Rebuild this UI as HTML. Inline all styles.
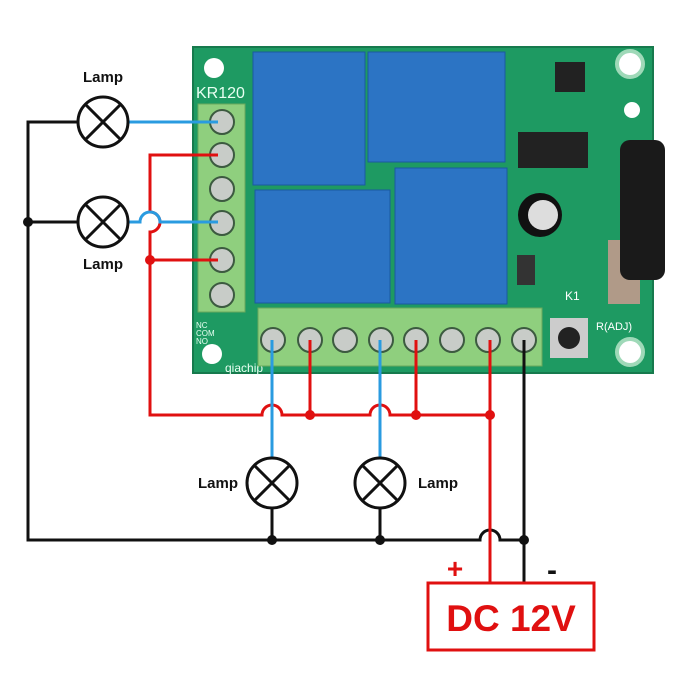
<!DOCTYPE html>
<html><head><style>body{margin:0;background:#fff}svg{display:block}</style></head><body>
<svg width="700" height="700" viewBox="0 0 700 700" font-family="Liberation Sans, sans-serif">
<!-- board -->
<rect x="193" y="47" width="460" height="326" fill="#1e9a62"/>
<rect x="193" y="47" width="460" height="326" fill="none" stroke="#177a4d" stroke-width="2"/>
<circle cx="214" cy="68" r="10" fill="#fff"/>
<circle cx="630" cy="64" r="13" fill="#fff" stroke="#9fd9b8" stroke-width="4"/>
<circle cx="632" cy="110" r="8" fill="#fff"/>
<circle cx="212" cy="354" r="10" fill="#fff"/>
<circle cx="630" cy="352" r="13" fill="#fff" stroke="#9fd9b8" stroke-width="4"/>
<text x="196" y="98" font-size="16" fill="#e8fff2">KR120</text>
<text x="196" y="328" font-size="8" fill="#e8fff2">NC</text>
<text x="196" y="336" font-size="8" fill="#e8fff2">COM</text>
<text x="196" y="344" font-size="8" fill="#e8fff2">NO</text>
<text x="225" y="372" font-size="12" fill="#e8fff2">qiachip</text>
<!-- chips -->
<rect x="555" y="62" width="30" height="30" fill="#222"/>
<rect x="518" y="132" width="70" height="36" fill="#222"/>
<circle cx="540" cy="215" r="22" fill="#111"/><circle cx="543" cy="215" r="15" fill="#ddd"/>
<rect x="517" y="255" width="18" height="30" fill="#333"/>
<rect x="550" y="318" width="38" height="40" fill="#ccc"/><circle cx="569" cy="338" r="11" fill="#222"/>
<text x="565" y="300" font-size="12" fill="#fff">K1</text>
<text x="596" y="330" font-size="11" fill="#fff">R(ADJ)</text>
<rect x="608" y="240" width="32" height="64" fill="#b09a88"/>
<rect x="620" y="140" width="45" height="140" rx="10" fill="#1a1a1a"/>
<!-- relays -->
<rect x="253" y="52" width="112" height="133" fill="#2c74c4" stroke="#1a5aa0"/>
<rect x="368" y="52" width="137" height="110" fill="#2c74c4" stroke="#1a5aa0"/>
<rect x="255" y="190" width="135" height="113" fill="#2c74c4" stroke="#1a5aa0"/>
<rect x="395" y="168" width="112" height="136" fill="#2c74c4" stroke="#1a5aa0"/>
<!-- terminal blocks -->
<rect x="198" y="104" width="47" height="208" fill="#8fcf7e" stroke="#6aa85c"/>
<rect x="258" y="308" width="284" height="58" fill="#8fcf7e" stroke="#6aa85c"/>
<g fill="#c8ccc8" stroke="#3c5a40" stroke-width="2">
<circle cx="222" cy="122" r="12"/><circle cx="222" cy="155" r="12"/><circle cx="222" cy="189" r="12"/><circle cx="222" cy="223" r="12"/><circle cx="222" cy="260" r="12"/><circle cx="222" cy="295" r="12"/>
<circle cx="273" cy="340" r="12"/><circle cx="310" cy="340" r="12"/><circle cx="345" cy="340" r="12"/><circle cx="381" cy="340" r="12"/><circle cx="416" cy="340" r="12"/><circle cx="452" cy="340" r="12"/><circle cx="488" cy="340" r="12"/><circle cx="524" cy="340" r="12"/>
</g>
<!-- black wires -->
<g fill="none" stroke="#111" stroke-width="3">
<path d="M78 122H28V540H480a10 10 0 0 1 20 0H524"/>
<path d="M28 222H78"/>
<path d="M524 340V583"/>
<path d="M272 508V540M380 508V540"/>
</g>
<g fill="#111"><circle cx="28" cy="222" r="5"/><circle cx="272" cy="540" r="5"/><circle cx="380" cy="540" r="5"/><circle cx="524" cy="540" r="5"/></g>
<!-- red wires -->
<g fill="none" stroke="#e01010" stroke-width="3">
<path d="M218 155H150V212a10 10 0 0 1 0 20V415H262a10 10 0 0 1 20 0H370a10 10 0 0 1 20 0H490"/>
<path d="M150 260H218"/>
<path d="M310 340V415M416 340V415M490 340V583"/>
</g>
<g fill="#e01010"><circle cx="150" cy="260" r="5"/><circle cx="310" cy="415" r="5"/><circle cx="416" cy="415" r="5"/><circle cx="490" cy="415" r="5"/></g>
<!-- blue wires -->
<g fill="none" stroke="#2a9be0" stroke-width="3">
<path d="M128 122H218"/>
<path d="M128 222H140a10 10 0 0 1 20 0H218"/>
<path d="M272 340V458M380 340V458"/>
</g>
<!-- lamps -->
<g fill="#fff" stroke="#111" stroke-width="3">
<circle cx="103" cy="122" r="25"/><circle cx="103" cy="222" r="25"/><circle cx="272" cy="483" r="25"/><circle cx="380" cy="483" r="25"/>
<path d="M85 104L121 140M121 104L85 140M85 204L121 240M121 204L85 240M254 465L290 501M290 465L254 501M362 465L398 501M398 465L362 501"/>
</g>
<g font-size="15" fill="#111" font-weight="bold" text-anchor="middle">
<text x="103" y="82">Lamp</text><text x="103" y="269">Lamp</text><text x="218" y="488">Lamp</text><text x="438" y="488">Lamp</text>
</g>
<!-- DC box -->
<rect x="428" y="583" width="166" height="67" fill="#fff" stroke="#e01010" stroke-width="3"/>
<text x="511" y="631" font-size="37" font-weight="bold" fill="#e01010" text-anchor="middle">DC 12V</text>
<text x="455" y="578" font-size="28" font-weight="bold" fill="#e01010" text-anchor="middle">+</text>
<text x="552" y="580" font-size="30" font-weight="bold" fill="#111" text-anchor="middle">-</text>
</svg>
</body></html>
